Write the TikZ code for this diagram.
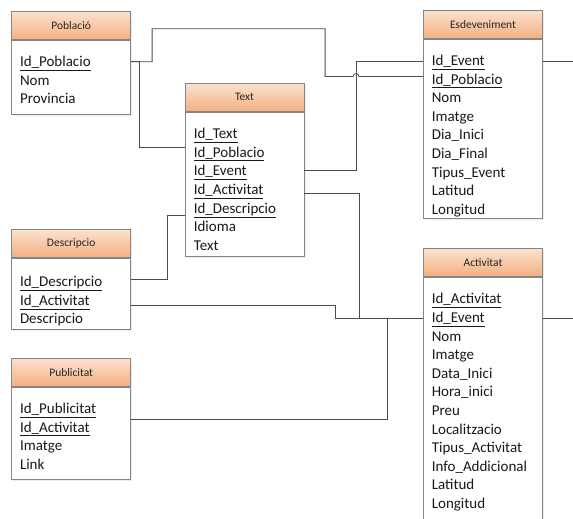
\documentclass[tikz,border=0pt]{standalone}
\usepackage{fontspec}
\setmainfont{Carlito}
\usepackage{xcolor}
\usetikzlibrary{positioning,calc,shadows}

\definecolor{hdtop}{HTML}{FBE2CE}
\definecolor{hdbot}{HTML}{F3B082}
\definecolor{boxline}{HTML}{858585}

\begin{document}
\begin{tikzpicture}[
    x=1pt, y=-1pt,
    head/.style={rectangle, draw=boxline, line width=0.8pt, top color=hdtop, bottom color=hdbot, minimum width=119pt, minimum height=28pt, inner sep=0pt, text=black!85, font=\fontsize{11.5}{14}\selectfont, drop shadow={opacity=0.15, shadow xshift=1.5pt, shadow yshift=-1.5pt}},
    body/.style={rectangle, draw=boxline, line width=0.8pt, fill=white, minimum width=119pt, inner sep=0pt, drop shadow={opacity=0.15, shadow xshift=1.5pt, shadow yshift=-1.5pt}},
    fields/.style={anchor=base west, inner sep=0pt, text width=110pt, align=left, text=black!90, font=\fontsize{15}{18.6}\selectfont},
    link/.style={draw=black!70, line width=0.8pt}
]
    \useasboundingbox (0,0) rectangle (573,519);
    \clip (0,0) rectangle (573,519);

    % tables
    \node [head] (pob) at (71.2,25.3) {Població};
    \node [body, below=0pt of pob, minimum height=74pt] (pobB) {};
    \node [fields] (pobF) at ($(pobB.north west)+(8.5,27)$) {\underline{Id\_Poblacio}\\Nom\\Provincia};

    \node [head] (txt) at (244.5,97.2) {Text};
    \node [body, below=0pt of txt, minimum height=144.5pt] (txtB) {};
    \node [fields] (txtF) at ($(txtB.north west)+(9,27)$) {\underline{Id\_Text}\\\underline{Id\_Poblacio}\\\underline{Id\_Event}\\\underline{Id\_Activitat}\\\underline{Id\_Descripcio}\\Idioma\\Text};

    \node [head] (esd) at (483,24.2) {Esdeveniment};
    \node [body, below=0pt of esd, minimum height=179.7pt] (esdB) {};
    \node [fields] (esdF) at ($(esdB.north west)+(8.5,27)$) {\underline{Id\_Event}\\\underline{Id\_Poblacio}\\Nom\\Imatge\\Dia\_Inici\\Dia\_Final\\Tipus\_Event\\Latitud\\Longitud};

    \node [head] (des) at (71.2,243.3) {Descripcio};
    \node [body, below=0pt of des, minimum height=71.6pt] (desB) {};
    \node [fields] (desF) at ($(desB.north west)+(8.5,29)$) {\underline{Id\_Descripcio}\\\underline{Id\_Activitat}\\Descripcio};

    \node [head] (pub) at (71.2,372.2) {Publicitat};
    \node [body, below=0pt of pub, minimum height=92pt] (pubB) {};
    \node [fields] (pubF) at ($(pubB.north west)+(8.5,27)$) {\underline{Id\_Publicitat}\\\underline{Id\_Activitat}\\Imatge\\Link};

    \node [head] (act) at (483,262.5) {Activitat};
    \node [body, below=0pt of act, minimum height=260pt] (actB) {};
    \node [fields] (actF) at ($(actB.north west)+(8.5,27)$) {\underline{Id\_Activitat}\\\underline{Id\_Event}\\Nom\\Imatge\\Data\_Inici\\Hora\_inici\\Preu\\Localitzacio\\Tipus\_Activitat\\Info\_Addicional\\Latitud\\Longitud};

    % key rows
    \coordinate (pobId) at ($(pobB.north east)+(0,22)$);
    \coordinate (txtPob) at ($(txtB.north west)+(0,35.5)$);
    \coordinate (txtEv) at ($(txtB.north east)+(0,59)$);
    \coordinate (txtAct) at ($(txtB.north east)+(0,82)$);
    \coordinate (txtDes) at ($(txtB.north west)+(0,104)$);
    \coordinate (esdEv) at ($(esdB.north west)+(0,23)$);
    \coordinate (esdPob) at ($(esdB.north west)+(0,38)$);
    \coordinate (esdOut) at ($(esdB.north east)+(0,23)$);
    \coordinate (desDes) at ($(desB.north east)+(0,22)$);
    \coordinate (desAct) at ($(desB.north east)+(0,47.5)$);
    \coordinate (pubAct) at ($(pubB.north east)+(0,33)$);
    \coordinate (actEv) at ($(actB.north west)+(0,41)$);
    \coordinate (actOut) at ($(actB.north east)+(0,41)$);
    \coordinate (rim) at (573,0);

    % relations
    \draw [link] (pobId) -- ++(21,0) -- ++(0,-33) -- ++(173,0) |- ($(esdPob)+(-70,0)$) arc [start angle=180, end angle=360, radius=3] -- (esdPob);
    \draw [link] (pobId) -- ++(8,0) |- (txtPob);
    \draw [link] (txtEv) -- ++(52,0) |- (esdEv);
    \draw [link] (txtAct) -- ++(55,0) |- (actEv);
    \draw [link] (txtDes) -- ++(-17,0) |- (desDes);
    \draw [link] (desAct) -- ++(204,0) |- (actEv);
    \draw [link] (pubAct) -- ++(256,0) |- (actEv);
    \draw [link] (esdOut) -- (esdOut -| rim);
    \draw [link] (actOut) -- (actOut -| rim);
\end{tikzpicture}
\end{document}
